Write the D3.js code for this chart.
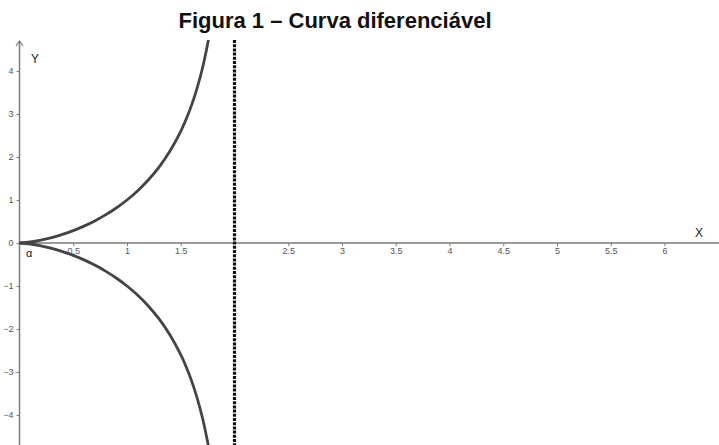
<!DOCTYPE html>
<html>
<head>
<meta charset="utf-8">
<script src="https://cdn.jsdelivr.net/npm/d3@7"></script>
<style>
  html, body { margin: 0; padding: 0; background: #fff; }
  svg { display: block; }
</style>
</head>
<body>
<svg id="chart" width="719" height="445"></svg>
<script>
// Upper branch of the curve (lower branch is its mirror image), asymptote at x = 2
const curveX = [0, 0.1, 0.2, 0.3, 0.4, 0.5, 0.6, 0.7, 0.8, 0.9, 1.0, 1.1, 1.2, 1.3, 1.4, 1.5, 1.55, 1.6, 1.65, 1.7, 1.75, 1.77, 1.79];
const curveY = [0, 0.023, 0.067, 0.126, 0.2, 0.289, 0.393, 0.514, 0.653, 0.814, 1.0, 1.216, 1.47, 1.772, 2.139, 2.598, 2.877, 3.2, 3.583, 4.047, 4.63, 4.91, 5.23];
const asymptoteX = 2;
const xTicks = [0.5, 1, 1.5, 2.5, 3, 3.5, 4, 4.5, 5, 5.5, 6];
const yTicks = [-4, -3, -2, -1, 0, 1, 2, 3, 4];
const title = "Figura 1 – Curva diferenciável";

const W = 719, H = 445;
const svg = d3.select("#chart");

const x = d3.scaleLinear().domain([0, 6]).range([19.5, 664.5]);
const y = d3.scaleLinear().domain([0, 4]).range([243, 71]);
const plotTop = 40;

const axisColor = "#7a7a7a";
const labelColor = "#555";
const fmt = d3.format("");
const font = "'Liberation Sans', Arial, sans-serif";

// Title
svg.append("text")
  .attr("x", 335).attr("y", 28)
  .attr("text-anchor", "middle")
  .attr("font-family", font)
  .attr("font-weight", "bold")
  .attr("font-size", 22)
  .attr("fill", "#111")
  .text(title);

svg.append("clipPath").attr("id", "plotClip")
  .append("rect").attr("x", 0).attr("y", plotTop).attr("width", W).attr("height", H - plotTop);

// X axis
const xAxis = d3.axisBottom(x).tickValues(xTicks).tickFormat(fmt).tickSize(3).tickSizeOuter(0);
const gx = svg.append("g").attr("transform", `translate(0,${y(0)})`).call(xAxis);
gx.select(".domain").remove();
gx.selectAll(".tick line").attr("stroke", axisColor);
gx.selectAll(".tick text")
  .attr("fill", labelColor)
  .attr("font-family", font)
  .attr("font-size", 9)
  .attr("dy", "0.55em");

// Y axis
const yAxis = d3.axisLeft(y).tickValues(yTicks).tickFormat(fmt).tickSize(3).tickSizeOuter(0).tickPadding(3);
const gy = svg.append("g").attr("transform", `translate(${x(0)},0)`).call(yAxis);
gy.select(".domain").remove();
gy.selectAll(".tick line").attr("stroke", axisColor);
gy.selectAll(".tick text")
  .attr("fill", labelColor)
  .attr("font-family", font)
  .attr("font-size", 9);

// Axis lines
svg.append("line")
  .attr("x1", x(0)).attr("x2", W)
  .attr("y1", y(0)).attr("y2", y(0))
  .attr("stroke", axisColor).attr("stroke-width", 1.5);
svg.append("line")
  .attr("x1", x(0)).attr("x2", x(0))
  .attr("y1", H).attr("y2", 41)
  .attr("stroke", axisColor).attr("stroke-width", 1.5);
svg.append("path")
  .attr("d", `M${x(0) - 3.5},${46} L${x(0)},${41} L${x(0) + 3.5},${46}`)
  .attr("fill", "none").attr("stroke", axisColor).attr("stroke-width", 1.2);

// Axis names
svg.append("text").attr("x", 31).attr("y", 63)
  .attr("font-family", font)
  .attr("font-size", 12).attr("fill", "#222").text("Y");
svg.append("text").attr("x", 695).attr("y", 237)
  .attr("font-family", font)
  .attr("font-size", 12).attr("fill", "#222").text("X");
svg.append("text").attr("x", 26).attr("y", 257)
  .attr("font-family", font)
  .attr("font-size", 11).attr("fill", "#222").text("α");

// Vertical asymptote
svg.append("line")
  .attr("x1", x(asymptoteX)).attr("x2", x(asymptoteX))
  .attr("y1", plotTop).attr("y2", H)
  .attr("stroke", "#111").attr("stroke-width", 3.2)
  .attr("stroke-dasharray", "3,1.2");

// Curve branches
const pts = curveX.map((v, i) => [v, curveY[i]]);
const line = d3.line().x(d => x(d[0])).y(d => y(d[1])).curve(d3.curveCatmullRom);
const g = svg.append("g").attr("clip-path", "url(#plotClip)");
g.append("path").datum(pts).attr("d", line)
  .attr("fill", "none").attr("stroke", "#444").attr("stroke-width", 2.8);
g.append("path").datum(pts.map(d => [d[0], -d[1]])).attr("d", line)
  .attr("fill", "none").attr("stroke", "#444").attr("stroke-width", 2.8);
</script>
</body>
</html>
